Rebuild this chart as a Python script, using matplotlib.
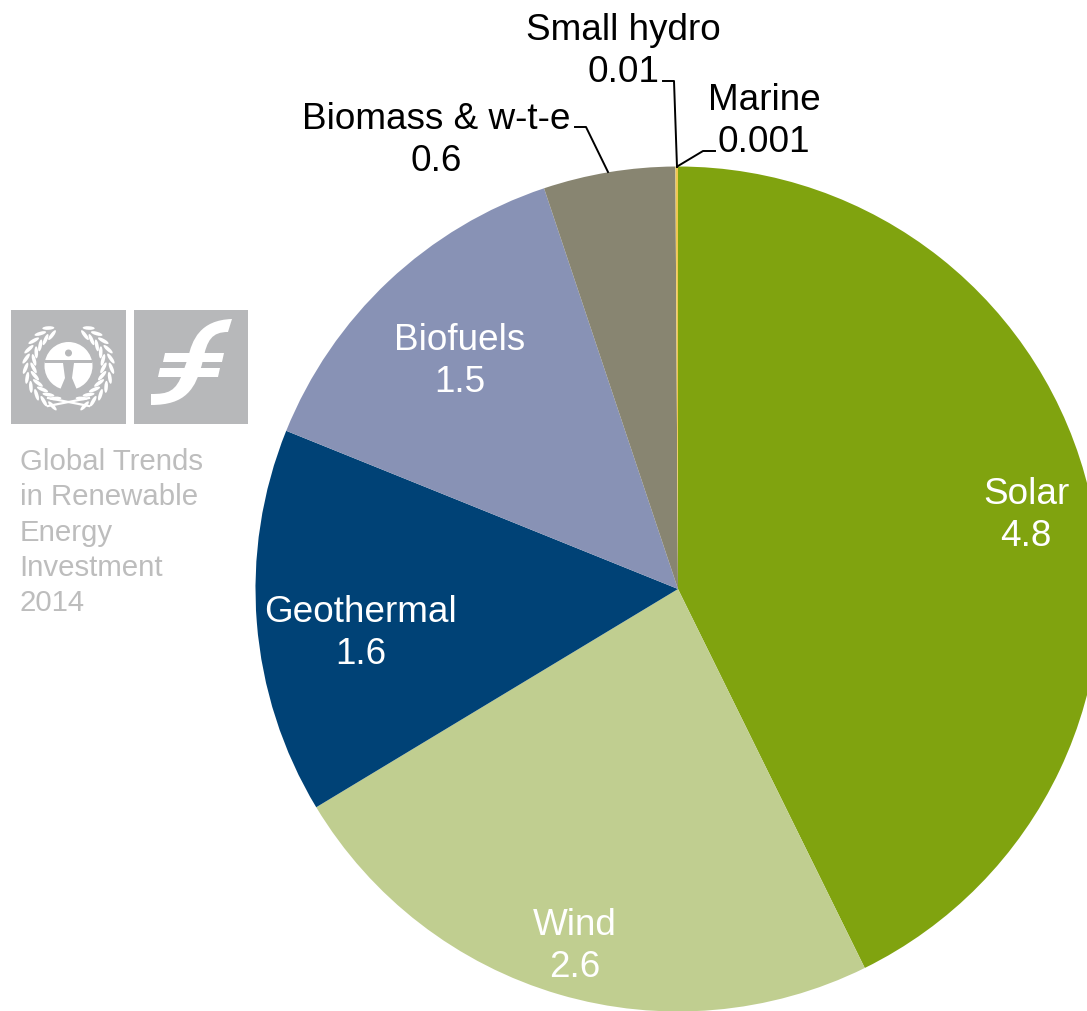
import matplotlib
matplotlib.use('Agg')

import numpy as np
import matplotlib.pyplot as plt
from matplotlib.patches import Rectangle, Circle, Ellipse, PathPatch, Polygon
from matplotlib.path import Path

plt.rcParams['font.family'] = ['Liberation Sans', 'DejaVu Sans']

# Data, clockwise from 12 o'clock. Slice sizes are read off the angles,
# the printed labels are the rounded ones.
labels = ['Solar', 'Wind', 'Geothermal', 'Biofuels', 'Biomass & w-t-e', 'Marine', 'Small hydro']
values = [4.75, 2.63, 1.64, 1.53, 0.56, 0.001, 0.01]
value_labels = ['4.8', '2.6', '1.6', '1.5', '0.6', '0.001', '0.01']
colors = ['#80A30F', '#C0CE90', '#004276', '#8892B5', '#888571', '#F5D76E', '#F0C850']
side_lines = ['Global Trends', 'in Renewable', 'Energy', 'Investment', '2014']

W, H = 1087, 1011
GREY = '#B7B8BA'

fig = plt.figure(figsize=(W / 100, H / 100), dpi=100)

# Pie axes, in pixel units with y going up
ax = fig.add_axes([0, 0, 1, 1])
ax.pie(values, colors=colors, startangle=90, counterclock=False,
       center=(678, H - 589), radius=422.5, wedgeprops=dict(linewidth=0))
ax.set_xlim(0, W)
ax.set_ylim(0, H)
ax.axis('off')

# Overlay in image pixels for labels and the logos
ov = fig.add_axes([0, 0, 1, 1])
ov.set_xlim(0, W)
ov.set_ylim(H, 0)
ov.axis('off')
ov.patch.set_alpha(0)

FS = 26.6


def value_label(i, x, y, color):
    ov.text(x, y, f"{labels[i]}\n{value_labels[i]}", color=color, fontsize=FS, ha='center',
            va='center', linespacing=1.25)


value_label(0, 1026, 515.5, 'white')
value_label(1, 575, 946.5, 'white')
value_label(2, 361, 633.5, 'white')
value_label(3, 459.5, 361.5, 'white')
value_label(4, 436, 140.5, 'black')
value_label(5, 764, 121.5, 'black')
value_label(6, 623, 51.5, 'black')

# Leader lines
ov.plot([575, 586, 608], [127, 127, 172], color='black', lw=1.4)
ov.plot([663, 674, 677], [81, 81, 167], color='black', lw=1.4)
ov.plot([715, 703, 678], [151, 151, 166], color='black', lw=1.4)

# Side caption
for i, line in enumerate(side_lines):
    ov.text(19.5, 462 + i * 35.3, line, color='#BDBDBD', fontsize=21.2, ha='left', va='center')

# Logo boxes
ov.add_patch(Rectangle((11, 310), 115, 114, fc=GREY, ec='none'))
ov.add_patch(Rectangle((134, 310), 114, 114, fc=GREY, ec='none'))

# Left emblem: wreath, angle measured from the bottom of the disc
cx, cy = 68.5, 366
for side in (-1, 1):
    for a in np.arange(22, 165, 13):
        t = np.radians(a)
        for r, tilt in ((35, 25), (43, -25)):
            x = cx + side * r * np.sin(t)
            y = cy + r * np.cos(t)
            ov.add_patch(Ellipse((x, y), 12, 3.6, angle=side * (tilt - a), fc='white', ec='none'))
ov.plot([48, 89], [398, 406], color='white', lw=1.6)
ov.plot([89, 48], [398, 406], color='white', lw=1.6)

# Left emblem: figure on the disc
ov.add_patch(Circle((cx, cy), 24, fc='white', ec='none'))
ov.add_patch(Circle((cx, 353), 3.5, fc=GREY, ec='none'))
ov.add_patch(Polygon([(45, 360), (92, 360), (92, 363), (74, 363), (72, 378), (77, 390),
                      (60, 390), (65, 378), (63, 363), (45, 363)], fc=GREY, ec='none'))

# Right emblem: the stylised f
verts = [(232, 319), (200, 320), (192, 340), (188, 358),
         (183, 372),
         (176, 392), (168, 394), (151, 394),
         (151, 405),
         (185, 405), (196, 390), (203, 360),
         (207, 340), (212, 332), (228, 332),
         (232, 319)]
codes = [Path.MOVETO, Path.CURVE4, Path.CURVE4, Path.CURVE4,
         Path.LINETO,
         Path.CURVE4, Path.CURVE4, Path.CURVE4,
         Path.LINETO,
         Path.CURVE4, Path.CURVE4, Path.CURVE4,
         Path.CURVE4, Path.CURVE4, Path.CURVE4,
         Path.CLOSEPOLY]
ov.add_patch(PathPatch(Path(verts, codes), fc='white', ec='none'))
ov.add_patch(Polygon([(165, 353), (224, 353), (222, 362), (163, 362)], fc='white', ec='none'))
ov.add_patch(Polygon([(160, 368), (220, 368), (218, 377), (158, 377)], fc='white', ec='none'))

fig.savefig('out.png', dpi=100)
